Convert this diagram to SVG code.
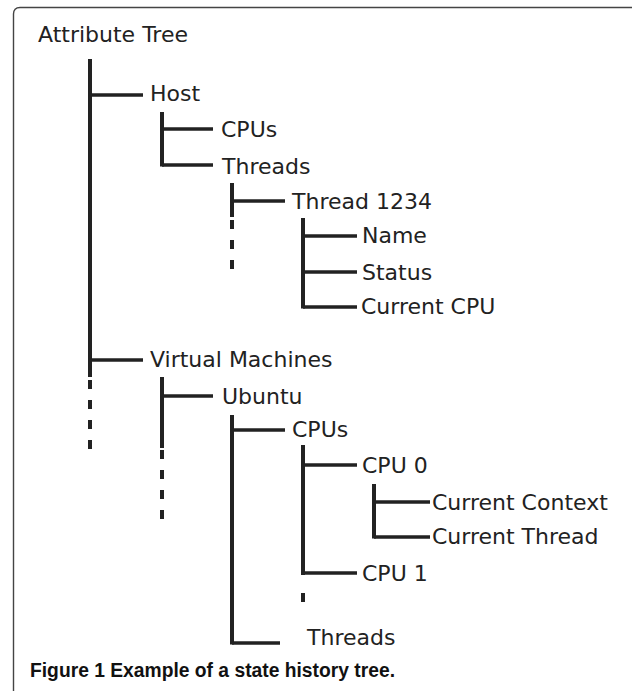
<svg xmlns="http://www.w3.org/2000/svg" width="632" height="691" viewBox="0 0 632 691">
<style>
.t{font-family:"DejaVu Sans","Liberation Sans",sans-serif;font-size:22px;fill:#222}
.cap{font-family:"Liberation Sans",Arial,sans-serif;font-size:19.5px;font-weight:bold;fill:#111}
.v{stroke:#222;stroke-width:4;fill:none}
.h{stroke:#222;stroke-width:3.5;fill:none}
.d{stroke:#222;stroke-width:4;stroke-dasharray:9 11;fill:none}
</style>
<rect width="632" height="691" fill="#fff"/>
<path d="M13.5 691 V14 Q13.5 7.5 20 7.5 H632" fill="none" stroke="#444" stroke-width="1.4"/>
<g id="connectors">
<line class="v" x1="90" y1="59" x2="90" y2="377"/>
<line class="d" x1="90" y1="380" x2="90" y2="449"/>
<line class="v" x1="162" y1="112" x2="162" y2="166.5"/>
<line class="v" x1="232" y1="183" x2="232" y2="217"/>
<line class="d" x1="232" y1="220" x2="232" y2="272"/>
<line class="v" x1="303" y1="218" x2="303" y2="308.5"/>
<line class="v" x1="162" y1="377" x2="162" y2="448"/>
<line class="d" x1="162" y1="450" x2="162" y2="521"/>
<line class="v" x1="232" y1="415" x2="232" y2="644.5"/>
<line class="v" x1="303" y1="445" x2="303" y2="575"/>
<line class="d" x1="303" y1="593" x2="303" y2="606"/>
<line class="v" x1="374" y1="484" x2="374" y2="538.5"/>
<line class="h" x1="90" y1="95" x2="143" y2="95"/>
<line class="h" x1="162" y1="129" x2="213" y2="129"/>
<line class="h" x1="162" y1="165" x2="213" y2="165"/>
<line class="h" x1="232" y1="201" x2="285" y2="201"/>
<line class="h" x1="303" y1="236" x2="357" y2="236"/>
<line class="h" x1="303" y1="272" x2="357" y2="272"/>
<line class="h" x1="303" y1="307" x2="357" y2="307"/>
<line class="h" x1="90" y1="360" x2="143" y2="360"/>
<line class="h" x1="162" y1="396" x2="213" y2="396"/>
<line class="h" x1="232" y1="430" x2="285" y2="430"/>
<line class="h" x1="303" y1="465" x2="357" y2="465"/>
<line class="h" x1="374" y1="502" x2="430" y2="502"/>
<line class="h" x1="374" y1="537" x2="430" y2="537"/>
<line class="h" x1="303" y1="573" x2="357" y2="573"/>
<line class="h" x1="232" y1="643" x2="280" y2="643"/>
</g>
<g id="root"><text class="t" x="38" y="42">Attribute Tree</text></g>
<g id="host"><text class="t" x="150" y="101">Host</text></g>
<g id="host-cpus"><text class="t" x="221" y="137">CPUs</text></g>
<g id="host-threads"><text class="t" x="222" y="174">Threads</text></g>
<g id="thread1234"><text class="t" x="292" y="209">Thread 1234</text></g>
<g id="name"><text class="t" x="362" y="243">Name</text></g>
<g id="status"><text class="t" x="362" y="280">Status</text></g>
<g id="current-cpu"><text class="t" x="361" y="314">Current CPU</text></g>
<g id="vms"><text class="t" x="150" y="367">Virtual Machines</text></g>
<g id="ubuntu"><text class="t" x="222" y="404">Ubuntu</text></g>
<g id="vm-cpus"><text class="t" x="292" y="437">CPUs</text></g>
<g id="cpu0"><text class="t" x="362" y="473">CPU 0</text></g>
<g id="current-context"><text class="t" x="432" y="510">Current Context</text></g>
<g id="current-thread"><text class="t" x="432" y="544">Current Thread</text></g>
<g id="cpu1"><text class="t" x="362" y="581">CPU 1</text></g>
<g id="vm-threads"><text class="t" x="307" y="645">Threads</text></g>
<text class="cap" x="30" y="677" textLength="365" lengthAdjust="spacingAndGlyphs">Figure 1 Example of a state history tree.</text>
</svg>
